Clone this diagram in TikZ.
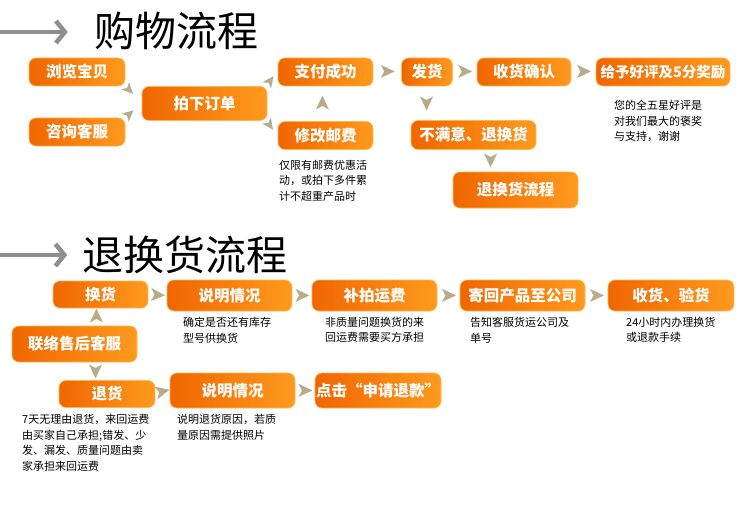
\documentclass[tikz,border=0pt]{standalone}
\usepackage{fontspec}
\setmainfont{Noto Sans CJK SC}
\newfontfamily\dejavu{DejaVu Sans}
\usetikzlibrary{arrows.meta,calc}
\definecolor{boxL}{HTML}{F06600}
\definecolor{boxR}{HTML}{FF9A1E}
\definecolor{boxEdge}{HTML}{FFB84A}
\definecolor{chevc}{HTML}{B5AC8A}
\definecolor{titlearrow}{HTML}{8F8F8F}
\begin{document}
\begin{tikzpicture}[x=1pt,y=-1pt,
  box/.style={rounded corners=7pt, left color=boxL, right color=boxR, draw=boxEdge, line width=0.6pt,
    text=white, font=\bfseries\fontsize{15.5}{16}\selectfont, inner sep=0pt},
  note/.style={anchor=north west, align=left, font=\fontsize{11}{15.5}\selectfont, inner sep=0pt},
  chev/.style={sloped, allow upside down, inner sep=0pt, text=chevc, font=\dejavu\fontsize{21}{21}\selectfont},
  dchev/.style={chev, font=\dejavu\fontsize{17}{17}\selectfont},
  title/.style={font=\fontsize{41}{41}\selectfont, inner sep=0pt},
  tarrow/.style={draw=titlearrow, line width=4.5pt, -{Straight Barb[length=9pt,width=22pt]}}
]
\useasboundingbox[fill=white] (0,0) rectangle (749,524);

% ---------- titles ----------
\node[title] (t1) at (176,31) {购物流程};
\coordinate (t1s) at (0,32);
\draw[tarrow, shorten >=26pt] (t1s) -- (t1s -| t1.west);

\node[title] (t2) at (185,255) {退换货流程};
\coordinate (t2s) at (0,255);
\draw[tarrow, shorten >=15pt] (t2s) -- (t2s -| t2.west);

% ---------- shopping flow ----------
\node[box, minimum width=96pt, minimum height=28pt] (b1) at (77,72) {浏览宝贝};
\node[box, minimum width=96pt, minimum height=28pt] (b2) at (77,132) {咨询客服};
\node[box, minimum width=125pt, minimum height=34pt] (b3) at (204.5,103.5) {拍下订单};
\node[box, minimum width=95pt, minimum height=28pt] (b4) at (325.5,72) {支付成功};
\node[box, minimum width=95pt, minimum height=28pt] (b5) at (325.5,135.5) {修改邮费};
\node[box, minimum width=51pt, minimum height=28pt] (b6) at (427,72) {发货};
\node[box, minimum width=94pt, minimum height=28pt] (b7) at (524,72) {收货确认};
\node[box, minimum width=134pt, minimum height=28pt, font=\bfseries\fontsize{14.5}{15}\selectfont] (b8) at (663,72) {给予好评及5分奖励};
\node[box, minimum width=125pt, minimum height=29pt] (b9) at (473.5,135) {不满意、退换货};
\node[box, minimum width=125pt, minimum height=36pt] (b10) at (515.5,190) {退换货流程};

\node[note] (n1) at (279,160) {仅限有邮费优惠活\\动，或拍下多件累\\计不超重产品时};
\node[note] (n2) at (614,100) {您的全五星好评是\\对我们最大的褒奖\\与支持，谢谢};

\path (b1.south east) -- node[dchev, pos=0.22]{➤} (b3.west);
\path (b2.north east) -- node[dchev, pos=0.22]{➤} (b3.west);
\path (b3.north east) -- node[dchev, pos=0.3]{➤} (b4.west);
\path (b3.south east) -- node[dchev, pos=0.3]{➤} (b5.west);
\path ([xshift=-3pt]b5.north) -- node[chev]{➤} ([xshift=-3pt]b4.south);
\path (b4.east) -- node[chev]{➤} (b6.west);
\path (b6.east) -- node[chev]{➤} (b7.west);
\path (b7.east) -- node[chev]{➤} (b8.west);
\path (b6.south) -- node[chev]{➤} (b6.south |- b9.north);
\path ([xshift=18pt]b9.south) -- node[chev]{➤} ([xshift=18pt]b9.south |- b10.north);

% ---------- return / exchange flow ----------
\node[box, minimum width=95pt, minimum height=27pt] (hh) at (100.5,294.5) {换货};
\node[box, minimum width=125pt, minimum height=31pt] (s1) at (229.5,295.5) {说明情况};
\node[box, minimum width=125pt, minimum height=31pt] (bp) at (374.5,295.5) {补拍运费};
\node[box, minimum width=125pt, minimum height=31pt] (jh) at (522.5,295.5) {寄回产品至公司};
\node[box, minimum width=126pt, minimum height=31pt] (sy) at (671,295.5) {收货、验货};
\node[box, minimum width=125pt, minimum height=36pt] (lx) at (74.5,344) {联络售后客服};
\node[box, minimum width=96pt, minimum height=27pt] (tg) at (107,394) {退货};
\node[box, minimum width=125pt, minimum height=35pt] (s2) at (232.5,390.5) {说明情况};
\node[box, minimum width=126pt, minimum height=35pt] (dj) at (378,390.5) {点击“申请退款”};

\node[note] (n3) at (183,317) {确定是否还有库存\\型号供换货};
\node[note] (n4) at (325,317) {非质量问题换货的来\\回运费需要买方承担};
\node[note] (n5) at (470,317) {告知客服货运公司及\\单号};
\node[note] (n6) at (626,317) {24小时内办理换货\\或退款手续};
\node[note] (n7) at (22,414) {7天无理由退货，来回运费\\由买家自己承担;错发、少\\发、漏发、质量问题由卖\\家承担来回运费};
\node[note] (n8) at (177,414) {说明退货原因，若质\\量原因需提供照片};

\path (hh.east) -- node[chev]{➤} (s1.west);
\path (s1.east) -- node[chev]{➤} (bp.west);
\path (bp.east) -- node[chev]{➤} (jh.west);
\path (jh.east) -- node[chev]{➤} (sy.west);
\path ([xshift=-4pt]hh.south |- lx.north) -- node[chev]{➤} ([xshift=-4pt]hh.south);
\path ([xshift=22pt]lx.south) -- node[chev]{➤} ([xshift=22pt]lx.south |- tg.north);
\path (tg.east) -- node[chev]{➤} (s2.west);
\path (s2.east) -- node[chev]{➤} (dj.west);
\end{tikzpicture}
\end{document}
